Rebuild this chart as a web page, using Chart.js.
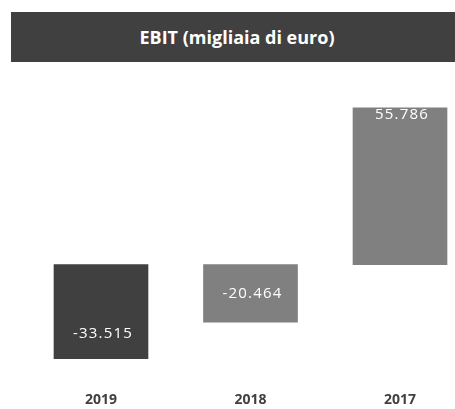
<!DOCTYPE html>
<html>
<head>
<meta charset="utf-8">
<script src="https://cdn.jsdelivr.net/npm/chart.js@4"></script>
<style>
  html, body { margin: 0; padding: 0; background: #fff; }
  #wrap { position: relative; width: 455px; height: 409px; }
  #title {
    position: absolute; left: 11px; top: 12px; width: 444px; height: 50px;
    background: #404040; color: #fff;
    font: bold 18px "Open Sans", sans-serif;
    display: flex; align-items: center; justify-content: center;
    padding-left: 8px; box-sizing: border-box;
  }
</style>
</head>
<body>
<div id="wrap">
  <canvas id="ebitChart"></canvas>
  <div id="title">EBIT (migliaia di euro)</div>
</div>
<script>
const years = ['2019', '2018', '2017'];
const ebit = [-33515, -20464, 55786];
const barColors = ['#404040', '#808080', '#808080'];

// where each value label sits inside its bar (px from the bar end, or centered)
const labelPlacement = [
    { from: 'end', offset: 25 },
    { from: 'center', offset: 0 },
    { from: 'end', offset: 7 }
];

function formatIt(v) {
    const s = Math.abs(v).toString().replace(/\B(?=(\d{3})+(?!\d))/g, '.');
    return (v < 0 ? '-' : '') + s;
}

const valueLabels = {
    id: 'valueLabels',
    afterDatasetsDraw(chart) {
        const ctx = chart.ctx;
        const meta = chart.getDatasetMeta(0);
        ctx.save();
        ctx.fillStyle = '#ffffff';
        ctx.font = '15px "Open Sans", sans-serif';
        ctx.letterSpacing = '1.2px';
        ctx.textAlign = 'center';
        ctx.textBaseline = 'middle';
        meta.data.forEach((bar, i) => {
            const p = labelPlacement[i];
            const dir = bar.y < bar.base ? 1 : -1;
            let y;
            if (p.from === 'center') {
                y = (bar.y + bar.base) / 2;
            } else {
                y = bar.y + dir * p.offset;
            }
            ctx.fillText(formatIt(ebit[i]), bar.x + 2, y);
        });
        ctx.restore();
    }
};

const ctx = document.getElementById('ebitChart').getContext('2d');
new Chart(ctx, {
    type: 'bar',
    data: {
        labels: years,
        datasets: [{
            data: ebit,
            backgroundColor: barColors,
            barThickness: 94,
            clip: false
        }]
    },
    options: {
        responsive: true,
        maintainAspectRatio: false,
        animation: false,
        layout: { padding: { left: 101, right: 55, top: 96, bottom: 0 } },
        plugins: {
            legend: { display: false },
            tooltip: { enabled: false }
        },
        scales: {
            x: {
                offset: false,
                grid: { display: false, drawTicks: false },
                border: { display: false },
                ticks: {
                    color: '#404040',
                    font: { family: 'Open Sans', size: 14, weight: 'bold' },
                    padding: 15,
                    maxRotation: 0
                },
                afterFit(scale) {
                    scale.height = 32;
                }
            },
            y: {
                display: false,
                min: -40000,
                max: 60000
            }
        }
    },
    plugins: [valueLabels]
});
</script>
</body>
</html>
